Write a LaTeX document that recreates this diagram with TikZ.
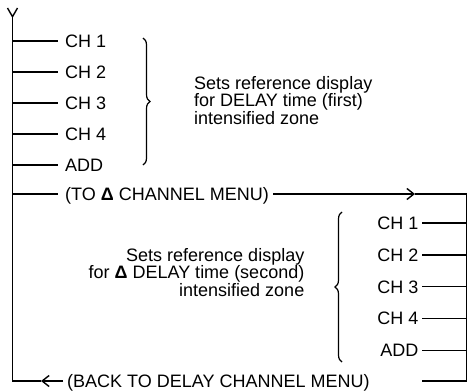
\documentclass[tikz,border=0pt]{standalone}
\usepackage{fontspec}
\setmainfont{Liberation Sans}
\usetikzlibrary{arrows.meta,decorations.pathreplacing}
\begin{document}
\begin{tikzpicture}[x=1pt,y=-1pt,
  ln/.style={line width=1.4pt},
  lbl/.style={inner xsep=0pt, inner ysep=0pt, text height=12.9pt, text depth=0pt, font=\fontsize{18}{16}\selectfont},
  para/.style={inner sep=0pt, font=\fontsize{18}{16}\selectfont},
  barb/.style={-{Straight Barb[length=7pt,width=11pt,line width=1.4pt]}},
  brc/.style={decorate, decoration={brace,amplitude=7pt}, line width=1.2pt}]
\useasboundingbox (0,0) rectangle (468,391);
% spines
\coordinate (ya) at (7.5,8);
\coordinate (yb) at (17.5,8);
\coordinate (top) at (12.5,16.7);
\coordinate (bl) at (12.5,381);
\coordinate (tipL) at (41,381);
\coordinate (tr) at (466.5,194);
\coordinate (br) at (466.5,381);
\coordinate (tipR) at (415,194);
\coordinate (brend) at (422,381);
\foreach \n/\y in {1/41,2/72,3/103,4/134,5/165,6/194} \coordinate (sl\n) at (12.5,\y);
\foreach \n/\y in {1/223,2/254.8,3/286.6,4/318.4,5/350.2} \coordinate (sr\n) at (466.5,\y);
% left labels
\node[lbl,anchor=west] (l1) at (65,41) {CH 1};
\node[lbl,anchor=west] (l2) at (65,72) {CH 2};
\node[lbl,anchor=west] (l3) at (65,103) {CH 3};
\node[lbl,anchor=west] (l4) at (65,134) {CH 4};
\node[lbl,anchor=west] (l5) at (65,165) {ADD};
\node[lbl,anchor=west] (l6) at (65,194) {(TO {\bfseries Δ} CHANNEL MENU)};
\node[lbl,anchor=west] (back) at (67,381) {(BACK TO DELAY CHANNEL MENU)};
% right labels
\node[lbl,anchor=east] (r1) at (418.5,223) {CH 1};
\node[lbl,anchor=east] (r2) at (418.5,254.8) {CH 2};
\node[lbl,anchor=east] (r3) at (418.5,286.6) {CH 3};
\node[lbl,anchor=east] (r4) at (418.5,318.4) {CH 4};
\node[lbl,anchor=east] (r5) at (418.5,350.2) {ADD};
% descriptions
\node[para,align=left,anchor=west] (t1) at (194,100.5) {Sets reference display\\for DELAY time (first)\\intensified zone};
\node[para,align=right,anchor=east] (t2) at (304.5,272.4) {Sets reference display\\for {\bfseries Δ} DELAY time (second)\\intensified zone};
% braces
\draw[brc] (143,38) -- (143,165);
\draw[brc] (342,362) -- (342,212);
% lines
\draw[ln] (ya) -- (top) -- (yb);
\draw[line width=1.5pt] (top) -- (bl) -- (tipL);
\foreach \n in {1,...,6} \draw[ln,shorten >=7pt] (sl\n) -- (l\n.west);
\foreach \n in {1,...,5} \draw[ln,shorten <=3.5pt] (r\n.east) -- (sr\n);
\draw[ln,barb,shorten <=4pt] (l6.east) -- (tipR);
\draw[line width=1.5pt] (tipR) -- (tr) -- (br) -- (brend);
\draw[ln,barb,shorten <=4pt] (back.west) -- (tipL);
\end{tikzpicture}
\end{document}
